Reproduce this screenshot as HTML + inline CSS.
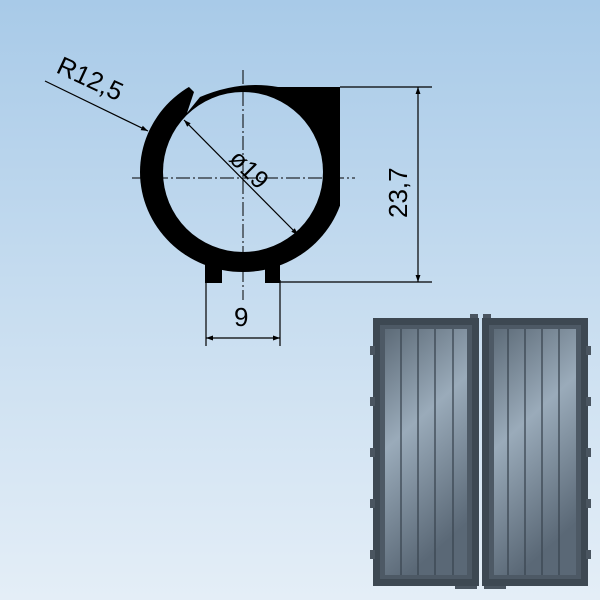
<!DOCTYPE html>
<html><head><style>
html,body{margin:0;padding:0;width:600px;height:600px;overflow:hidden}
body{background:linear-gradient(180deg,#a8cae8 0%,#c4dbef 45%,#e4eef7 100%)}
</style></head><body>
<svg width="600" height="600" viewBox="0 0 600 600" xmlns="http://www.w3.org/2000/svg" font-family="Liberation Sans, sans-serif">
<defs>
<marker id="a" viewBox="0 0 10 10" refX="10" refY="5" markerWidth="9" markerHeight="7" orient="auto-start-reverse" markerUnits="userSpaceOnUse"><path d="M0,1.5 L10,5 L0,8.5 z" fill="#000"/></marker>
<linearGradient id="g" x1="0" y1="0" x2="0.3" y2="1"><stop offset="0" stop-color="#5d6b78"/><stop offset="0.45" stop-color="#9aabba"/><stop offset="1" stop-color="#5a6876"/></linearGradient>
<mask id="m" maskUnits="userSpaceOnUse" x="0" y="0" width="600" height="600">
<ellipse cx="243" cy="172" rx="103" ry="100" fill="#fff"/>
<rect x="243" y="87" width="97" height="119" fill="#fff"/>
<path d="M100,60 L400,60 L400,87 L278,87 Q240,80 200,97 L187,113 L194,92 L186,84 L100,84 Z" fill="#000"/>
<rect x="340" y="60" width="100" height="300" fill="#000"/>
<ellipse cx="243" cy="172" rx="80" ry="80" fill="#000"/>
<path d="M280,87 L300,87 L296,103 L308,110 L318,101 L326,118 L320,140 L340,140 L340,87 Z" fill="#fff"/>
</mask>
</defs>
<rect x="120" y="60" width="240" height="240" fill="#000" mask="url(#m)"/>
<rect x="205" y="262" width="17" height="21" fill="#000"/>
<rect x="265" y="262" width="15" height="21" fill="#000"/>
<g stroke="#000" stroke-width="1" stroke-dasharray="14,3,2,3" fill="none">
<line x1="243" y1="70" x2="243" y2="300"/>
<line x1="132" y1="178" x2="355" y2="178"/>
</g>
<line x1="184" y1="120" x2="298" y2="235" stroke="#000" stroke-width="1.2" marker-start="url(#a)" marker-end="url(#a)"/>
<text x="0" y="0" font-size="25" transform="translate(228,160) rotate(45)">ø19</text>
<line x1="45" y1="81" x2="148" y2="131" stroke="#000" stroke-width="1.2" marker-end="url(#a)"/>
<text font-size="26" transform="translate(55,72) rotate(25)">R12,5</text>
<g stroke="#000" stroke-width="1.2">
<line x1="340" y1="87" x2="432" y2="87"/>
<line x1="280" y1="282" x2="432" y2="282"/>
<line x1="418" y1="87" x2="418" y2="282" marker-start="url(#a)" marker-end="url(#a)"/>
<line x1="206" y1="280" x2="206" y2="346"/>
<line x1="280" y1="280" x2="280" y2="346"/>
<line x1="206" y1="338" x2="280" y2="338" marker-start="url(#a)" marker-end="url(#a)"/>
</g>
<text font-size="26" transform="translate(407,218) rotate(-90)">23,7</text>
<text x="234" y="326" font-size="26">9</text>
<g>
<rect x="373" y="318" width="106" height="268" fill="#3d4852"/>
<rect x="482" y="318" width="106" height="268" fill="#3d4852"/>
<rect x="380" y="325" width="92" height="254" fill="#4d5965"/>
<rect x="489" y="325" width="92" height="254" fill="#4d5965"/>
<rect x="385" y="329" width="82" height="246" fill="url(#g)"/>
<rect x="494" y="329" width="82" height="246" fill="url(#g)"/>
<g stroke="#3a4550" stroke-width="1.3">
<line x1="401" y1="329" x2="401" y2="575"/><line x1="418" y1="329" x2="418" y2="575"/><line x1="435" y1="329" x2="435" y2="575"/><line x1="453" y1="329" x2="453" y2="575"/>
<line x1="508" y1="329" x2="508" y2="575"/><line x1="525" y1="329" x2="525" y2="575"/><line x1="542" y1="329" x2="542" y2="575"/><line x1="559" y1="329" x2="559" y2="575"/>
</g>
<g fill="#4a5560">
<rect x="370" y="346" width="5" height="9"/><rect x="370" y="397" width="5" height="9"/><rect x="370" y="448" width="5" height="9"/><rect x="370" y="499" width="5" height="9"/><rect x="370" y="550" width="5" height="9"/>
<rect x="586" y="346" width="5" height="9"/><rect x="586" y="397" width="5" height="9"/><rect x="586" y="448" width="5" height="9"/><rect x="586" y="499" width="5" height="9"/><rect x="586" y="550" width="5" height="9"/>
<rect x="470" y="314" width="8" height="4"/><rect x="483" y="314" width="8" height="4"/>
<rect x="455" y="586" width="22" height="3"/><rect x="484" y="586" width="22" height="3"/>
</g>
</g>
</svg>
</body></html>
